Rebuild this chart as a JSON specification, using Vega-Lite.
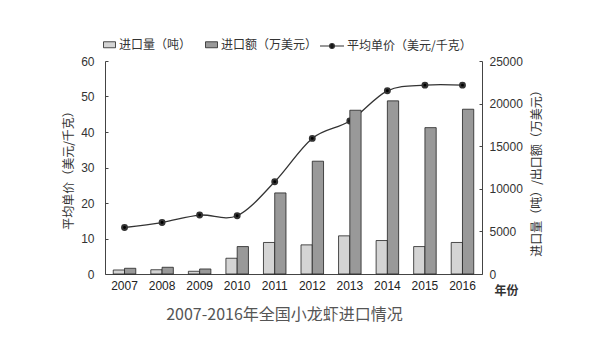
{
  "$schema": "https://vega.github.io/schema/vega-lite/v6.json",
  "width": 377,
  "height": 213,
  "autosize": "none",
  "padding": {"left": 105, "top": 61, "right": 118, "bottom": 78},
  "background": "white",
  "config": {
    "view": {"stroke": null},
    "font": "Liberation Sans",
    "axis": {"grid": false, "domainColor": "#444", "labelColor": "#333", "tickColor": "#444", "titleColor": "#333"}
  },
  "datasets": {
    "bars": [
      {"year": "2007", "series": "进口量（吨）", "value": 470},
      {"year": "2007", "series": "进口额（万美元）", "value": 670},
      {"year": "2008", "series": "进口量（吨）", "value": 500},
      {"year": "2008", "series": "进口额（万美元）", "value": 790},
      {"year": "2009", "series": "进口量（吨）", "value": 320},
      {"year": "2009", "series": "进口额（万美元）", "value": 590},
      {"year": "2010", "series": "进口量（吨）", "value": 1850},
      {"year": "2010", "series": "进口额（万美元）", "value": 3220},
      {"year": "2011", "series": "进口量（吨）", "value": 3700},
      {"year": "2011", "series": "进口额（万美元）", "value": 9515},
      {"year": "2012", "series": "进口量（吨）", "value": 3420},
      {"year": "2012", "series": "进口额（万美元）", "value": 13240},
      {"year": "2013", "series": "进口量（吨）", "value": 4480},
      {"year": "2013", "series": "进口额（万美元）", "value": 19220},
      {"year": "2014", "series": "进口量（吨）", "value": 3930},
      {"year": "2014", "series": "进口额（万美元）", "value": 20320},
      {"year": "2015", "series": "进口量（吨）", "value": 3220},
      {"year": "2015", "series": "进口额（万美元）", "value": 17180},
      {"year": "2016", "series": "进口量（吨）", "value": 3700},
      {"year": "2016", "series": "进口额（万美元）", "value": 19340}
    ],
    "price": [
      {"year": "2007", "price": 13.1},
      {"year": "2008", "price": 14.5},
      {"year": "2009", "price": 16.6},
      {"year": "2010", "price": 16.4},
      {"year": "2011", "price": 26.0},
      {"year": "2012", "price": 38.2},
      {"year": "2013", "price": 43.1},
      {"year": "2014", "price": 51.6},
      {"year": "2015", "price": 53.2},
      {"year": "2016", "price": 53.2}
    ]
  },
  "title": {
    "text": "2007-2016年全国小龙虾进口情况",
    "orient": "bottom",
    "anchor": "middle",
    "font": "Noto Sans CJK SC",
    "fontSize": 16,
    "fontWeight": "normal",
    "color": "#555",
    "offset": 11,
    "dx": -9
  },
  "resolve": {"scale": {"y": "independent"}},
  "layer": [
    {
      "data": {"name": "price"},
      "mark": {"type": "line", "interpolate": "cardinal", "strokeWidth": 1.3, "point": {"filled": true, "fill": "#000", "stroke": null, "size": 24}},
      "encoding": {
        "x": {
          "field": "year", "type": "nominal",
          "scale": {"type": "band", "paddingInner": 0.4, "paddingOuter": 0.22},
          "axis": {
            "title": "年份", "titleFont": "Noto Sans CJK SC", "titleFontSize": 12, "titleFontWeight": "bold",
            "titleX": 401, "titleY": 20, "titleAnchor": null, "titleAlign": "center", "titleBaseline": "alphabetic",
            "labelAngle": 0, "labelFontSize": 12, "labelPadding": 6, "ticks": false, "labelColor": "#222"
          }
        },
        "y": {
          "field": "price", "type": "quantitative",
          "scale": {"domain": [0, 60]},
          "axis": {
            "orient": "left", "values": [0, 10, 20, 30, 40, 50, 60],
            "title": "平均单价（美元/千克）", "titleFont": "Noto Sans CJK SC", "titleFontSize": 12, "titleFontWeight": "normal",
            "titleAngle": 270, "titleX": -37, "titleY": 106, "titleAlign": "center", "titleBaseline": "middle",
            "labelFontSize": 12, "labelPadding": 14, "tickSize": -3, "labelColor": "#333"
          }
        },
        "stroke": {
          "datum": "平均单价（美元/千克）",
          "scale": {"range": ["#333"]},
          "legend": {
            "orient": "none", "legendX": 214, "legendY": -28, "title": null,
            "symbolType": "M-1,0H1M-0.2,0A0.2,0.2 0 1,1 0.2,0A0.2,0.2 0 1,1 -0.2,0Z",
            "symbolSize": 576, "symbolFillColor": "#000", "symbolStrokeWidth": 1.2,
            "labelFont": "Noto Sans CJK SC", "labelFontSize": 12, "labelColor": "#333", "labelOffset": 2
          }
        }
      }
    },
    {
      "data": {"name": "bars"},
      "mark": {"type": "bar", "stroke": "#222", "strokeWidth": 0.8},
      "encoding": {
        "x": {"field": "year", "type": "nominal", "scale": {"type": "band"}},
        "xOffset": {"field": "series", "type": "nominal", "sort": ["进口量（吨）", "进口额（万美元）"], "scale": {"paddingInner": 0, "paddingOuter": 0}},
        "y": {
          "field": "value", "type": "quantitative",
          "scale": {"domain": [0, 25000]},
          "axis": {
            "orient": "right", "values": [0, 5000, 10000, 15000, 20000, 25000], "format": "d",
            "title": "进口量（吨）/出口额（万美元）", "titleFont": "Noto Sans CJK SC", "titleFontSize": 12, "titleFontWeight": "normal",
            "titleAngle": 270, "titleX": 54, "titleY": 109, "titleAlign": "center", "titleBaseline": "middle",
            "labelFontSize": 12, "labelPadding": 10, "tickSize": -3, "labelColor": "#333"
          }
        },
        "fill": {
          "field": "series", "type": "nominal",
          "scale": {"domain": ["进口量（吨）", "进口额（万美元）"], "range": ["#d4d4d4", "#999999"]},
          "legend": {
            "orient": "none", "legendX": -2, "legendY": -23, "direction": "horizontal", "title": null,
            "symbolType": "M-1,-0.5H1V0.5H-1Z", "symbolSize": 144, "symbolStrokeColor": "#222", "symbolStrokeWidth": 0.8,
            "labelFont": "Noto Sans CJK SC", "labelFontSize": 12, "labelColor": "#333", "labelOffset": 3, "columnPadding": 11
          }
        }
      }
    }
  ]
}
